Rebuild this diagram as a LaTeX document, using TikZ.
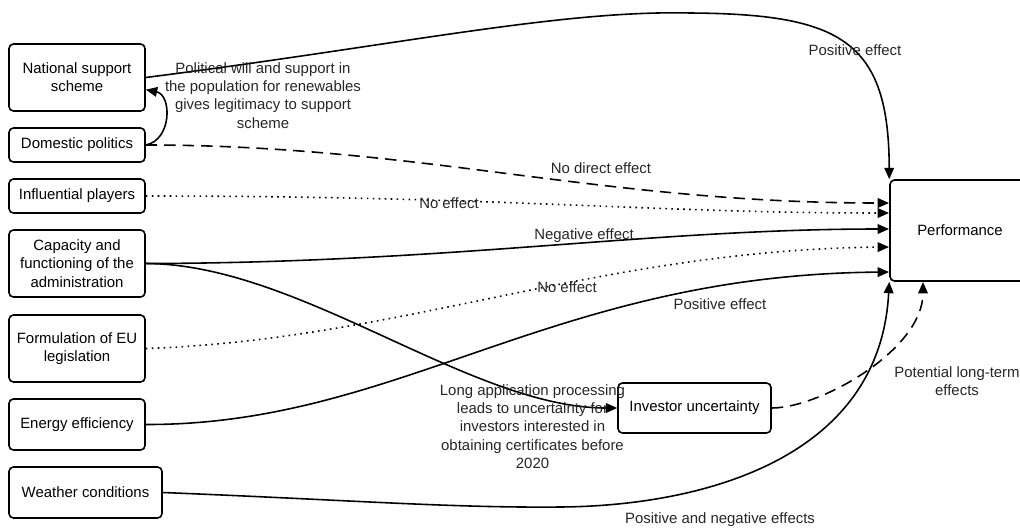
\documentclass[tikz,border=0pt]{standalone}
\usepackage{fontspec}
\setmainfont{Liberation Sans}
\usetikzlibrary{arrows.meta}
\tikzset{
  box/.style={draw, rounded corners=2.5pt, line width=0.9pt, align=center, inner sep=0pt, minimum width=2.72cm},
  lbl/.style={align=center, text=black!85, inner sep=0pt},
  link/.style={line width=0.9pt, -{Triangle[length=6.5pt, width=5.5pt]}},
  longdash/.style={dash pattern=on 6.5pt off 4pt},
  dotline/.style={dash pattern=on 0.9pt off 2.5pt},
}
\begin{document}
\begin{tikzpicture}[x=0.02cm, y=-0.02cm, font=\fontsize{8.5}{10.4}\selectfont]
\useasboundingbox (0, 0) rectangle (1020, 531);
\node [box, minimum height=1.34cm] (nat) at (77, 77.5) {National support\\scheme};
\node [box, minimum height=0.68cm] (dom) at (77, 145) {Domestic politics};
\node [box, minimum height=0.68cm] (infl) at (77, 196) {Influential players};
\node [box, minimum height=1.34cm] (cap) at (77, 263.5) {Capacity and\\functioning of the\\administration};
\node [box, minimum height=1.34cm] (form) at (77, 348.5) {Formulation of EU\\legislation};
\node [box, minimum height=1.02cm] (ee) at (77, 424.5) {Energy efficiency};
\node [box, minimum height=1.02cm, minimum width=3.06cm] (wea) at (85.5, 492.5) {Weather conditions};
\node [box, minimum height=1.0cm, minimum width=3.06cm] (inv) at (694.5, 408) {Investor uncertainty};
\node [box, minimum height=2.02cm, minimum width=2.8cm] (perf) at (960, 230.5) {Performance};
\coordinate (pin1) at (889, 203);
\coordinate (pin2) at (889, 213);
\coordinate (pin3) at (889, 229);
\coordinate (pin4) at (889, 247);
\coordinate (pin5) at (889, 272);
\coordinate (pout) at (923, 282);
\draw [link] (nat.east) .. controls (400, 45) and (560, 10) .. (690, 13) .. controls (840, 14) and (889, 40) .. (perf.north west);
\draw [link] (dom.east) .. controls (172, 140) and (172, 95) .. (nat.-10);
\draw [link, longdash] (dom.east) .. controls (420, 145) and (600, 203) .. (pin1);
\draw [link, dotline] (infl.east) .. controls (500, 196) and (650, 213) .. (pin2);
\draw [link] (cap.east) .. controls (450, 263) and (650, 229) .. (pin3);
\draw [link] (cap.east) .. controls (300, 264) and (470, 408) .. (inv.west);
\draw [link, dotline] (form.east) .. controls (400, 340) and (600, 250) .. (pin4);
\draw [link] (ee.east) .. controls (400, 425) and (550, 275) .. (pin5);
\draw [link] (wea.east) .. controls (350, 500) and (450, 508) .. (560, 507) .. controls (700, 506) and (880, 460) .. (perf.south west);
\draw [link, longdash] (inv.east) .. controls (820, 408) and (923, 350) .. (pout);
\node [lbl] (willlbl) at (263, 95.5) {Political will and support in\\the population for renewables\\gives legitimacy to support\\scheme};
\node [lbl] (toplbl) at (855, 50) {Positive effect};
\node [lbl] (domlbl) at (601, 168) {No direct effect};
\node [lbl] (infllbl) at (449, 203) {No effect};
\node [lbl] (caplbl) at (584, 236) {Negative effect};
\node [lbl] (formlbl) at (567, 287) {No effect};
\node [lbl] (eelbl) at (720, 304) {Positive effect};
\node [lbl] (invlbl) at (532.5, 426.5) {Long application processing\\leads to uncertainty for\\investors interested in\\obtaining certificates before\\2020};
\node [lbl] (longlbl) at (957, 381.5) {Potential long-term\\effects};
\node [lbl] (wealbl) at (720, 520) {Positive and negative effects};
\end{tikzpicture}
\end{document}
